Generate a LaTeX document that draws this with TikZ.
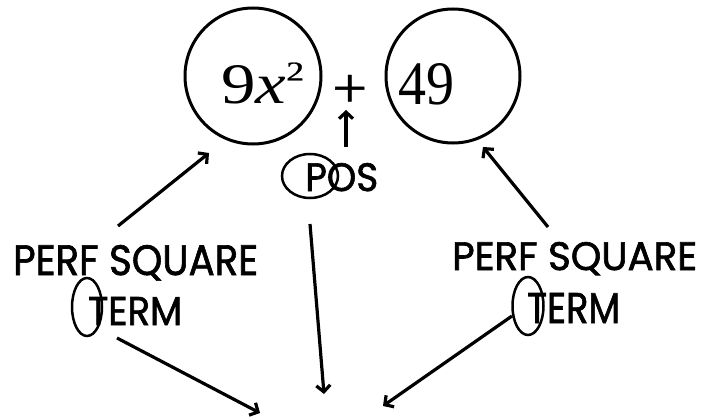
\documentclass[tikz,border=0pt]{standalone}
\usepackage{fontspec}
\setmainfont{Liberation Serif}
\newfontfamily\gothic[FakeBold=1.6]{Poppins}
\newfontfamily\serifheavy[FakeBold=0.8]{Liberation Serif}
\usetikzlibrary{arrows.meta,shapes.geometric}
\begin{document}
\begin{tikzpicture}[x=1pt,y=-1pt,
  ring/.style={circle,draw,line width=3pt,inner sep=0pt},
  loop/.style={ellipse,draw,line width=2.5pt,inner sep=0pt},
  arr/.style={line width=3.2pt,-{Straight Barb[length=6.5pt,width=14pt,line width=3.2pt]}},
  lab/.style={inner sep=0pt,anchor=base west}]
\useasboundingbox (0,0) rectangle (702,420);
% circles
\node[ring,minimum size=136pt] (c1) at (253,76) {};
\node[ring,minimum size=134pt] (c2) at (453,76) {};
% math text
\node[lab] (t1) at (221,103.5) {\resizebox{65pt}{38pt}{9\textit{x}}};
\node[lab] (sup) at (286,80.5) {\resizebox{18pt}{18pt}{\serifheavy 2}};
\node[lab] (plus) at (332,107) {\resizebox{35pt}{32pt}{\serifheavy +}};
\node[lab] (t2) at (398,104.5) {\resizebox{56pt}{41pt}{49}};
% labels
\node[lab] (pos) at (305,191) {\resizebox{73pt}{28pt}{\gothic POS}};
\node[lab] (sqL) at (13,275) {\resizebox{245pt}{30pt}{\gothic PERF SQUARE}};
\node[lab] (tmL) at (88,325) {\resizebox{94pt}{28pt}{\gothic TERM}};
\node[lab] (sqR) at (452,270) {\resizebox{245pt}{28pt}{\gothic PERF SQUARE}};
\node[lab] (tmR) at (527,323) {\resizebox{93pt}{30pt}{\gothic TERM}};
% ellipses
\node[loop,minimum width=56pt,minimum height=44pt] (eP) at (310,176) {};
\node[loop,minimum width=30pt,minimum height=58pt] (eL) at (87,307) {};
\node[loop,minimum width=31pt,minimum height=58pt] (eR) at (528,306) {};
% arrow end points
\coordinate (pU0) at (346,147);
\coordinate (pU1) at (346,110);
\coordinate (lU0) at (118,226);
\coordinate (lU1) at (209,153);
\coordinate (rU0) at (548,227);
\coordinate (rU1) at (483,147);
\coordinate (mD0) at (310,224);
\coordinate (mD1) at (324,394);
\coordinate (lD0) at (117,338);
\coordinate (lD1) at (260,413);
\coordinate (rD0) at (512,316);
\coordinate (rD1) at (383,406);
\draw[arr] (pU0) -- (pU1);
\draw[arr] (lU0) -- (lU1);
\draw[arr] (rU0) -- (rU1);
\draw[arr] (mD0) -- (mD1);
\draw[arr] (lD0) -- (lD1);
\draw[arr] (rD0) -- (rD1);
\end{tikzpicture}
\end{document}
